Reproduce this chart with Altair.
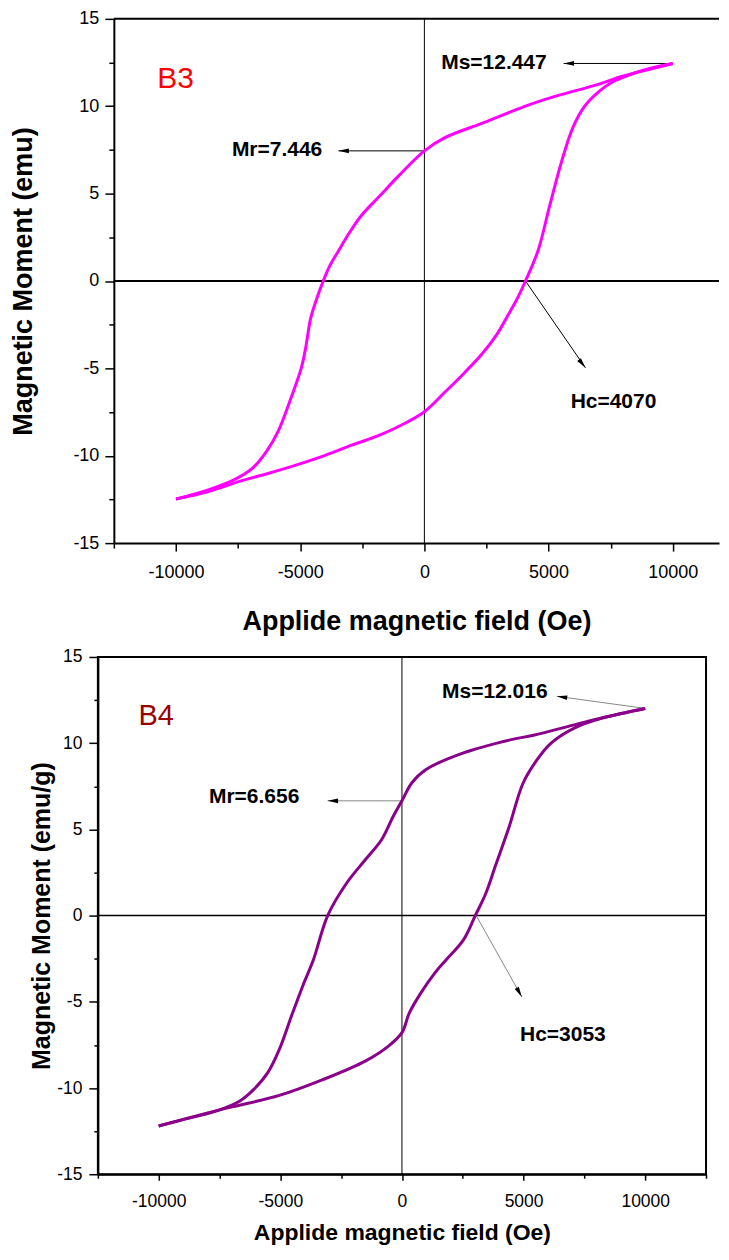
import altair as alt
import pandas as pd

# ---------------- data: B3 (top panel) ----------------
b3_desc_H = [10000, 9068, 7937, 7000, 5323, 4016, 2335, 827, 0, -1048, -1800, -2550, -3000,
             -3488, -3800, -4070, -4330, -4580, -4780, -4956, -5370, -5892, -6360, -6918,
             -7665, -8694, -10000]
b3_desc_M = [12.447, 12.12, 11.70, 11.25, 10.59, 9.98, 9.03, 8.2, 7.446, 6.0, 4.86, 3.72, 2.8,
             1.65, 0.89, 0.0, -1.0, -2.15, -3.84, -4.99, -6.70, -8.62, -9.76, -10.71,
             -11.38, -11.95, -12.48]
b3_asc_H = [-10000, -8694, -7384, -6266, -5141, -4019, -2898, -1777, -860, 0, 840, 1588, 2335,
            2898, 3364, 3738, 4070, 4578, 5047, 5514, 5981, 6447, 7010, 7572, 8320, 9068, 10000]
b3_asc_M = [-12.48, -12.05, -11.44, -11.0, -10.52, -9.99, -9.38, -8.81, -8.2, -7.48, -6.34,
            -5.29, -4.15, -3.1, -1.96, -1.01, 0.0, 1.75, 4.32, 6.79, 8.79, 9.99, 10.82, 11.39,
            11.83, 12.16, 12.447]

b3_text = ["Ms=12.447", "Mr=7.446", "Hc=4070"]
b3_text_H = [2800, -5930, 7613]
b3_text_M = [12.5, 7.5, -6.9]
b3_arrow_H = [10000, 0, 4070]
b3_arrow_M = [12.447, 7.446, 0.0]
b3_tip_H = [5603, -3460, 6485]
b3_tip_M = [12.447, 7.446, -4.97]
b3_tip_angle = [270, 270, 142]
b3_label = "B3"
b3_label_H = [-10012]
b3_label_M = [11.57]

# ---------------- data: B4 (bottom panel) ----------------
b4_desc_H = [10000, 8279, 7084, 5406, 4450, 2501, 975, 402, 0, -361, -838, -1507, -2271,
             -3053, -3640, -4030, -4545, -5040, -5516, -6090, -6662, -7618, -8953, -10000]
b4_desc_M = [12.016, 11.49, 11.06, 10.46, 10.19, 9.42, 8.46, 7.69, 6.656, 5.75, 4.40, 3.24,
             1.89, 0.0, -2.56, -3.91, -5.84, -7.76, -9.11, -10.08, -10.75, -11.33, -11.82,
             -12.2]
b4_asc_H = [-10000, -7425, -5040, -3228, -1507, -554, 0, 304, 780, 1355, 1820, 2536, 3014,
            3454, 3836, 4411, 4982, 5556, 6131, 7084, 8226, 10000]
b4_asc_M = [-12.2, -11.24, -10.43, -9.5, -8.44, -7.57, -6.79, -5.64, -4.48, -3.32, -2.56,
            -1.39, 0.0, 1.31, 2.86, 5.17, 7.69, 9.04, 10.0, 10.87, 11.45, 12.016]

b4_text = ["Ms=12.016", "Mr=6.656", "Hc=3053"]
b4_text_H = [3818, -6077, 6616]
b4_text_M = [12.95, 6.85, -6.94]
b4_arrow_H = [10000, 0, 3053]
b4_arrow_M = [12.016, 6.656, 0.0]
b4_tip_H = [6365, -3058, 4928]
b4_tip_M = [12.72, 6.656, -4.72]
b4_tip_angle = [278, 270, 151]
b4_label = "B4"
b4_label_H = [-10100]
b4_label_M = [11.6]

x_ticks = [-12500, -10000, -7500, -5000, -2500, 0, 2500, 5000, 7500, 10000, 12500]
y_ticks = [-15, -12.5, -10, -7.5, -5, -2.5, 0, 2.5, 5, 7.5, 10, 12.5, 15]
x_title = "Applide magnetic field (Oe)"

FONT = "Liberation Sans"
ARROW = "M0,0L0.45,2L-0.45,2Z"


def panel(desc_H, desc_M, asc_H, asc_M, texts, tH, tM, aH, aM, pH, pM, pA,
          label, lH, lM, st):
    H = desc_H + asc_H
    M = desc_M + asc_M
    branch = ["down"] * len(desc_H) + ["up"] * len(asc_H)
    curve = pd.DataFrame({"H": H, "M": M, "b": branch, "i": list(range(len(H)))})
    ann = pd.DataFrame({"H": tH, "M": tM, "t": texts})
    arrows = pd.DataFrame({"H": aH, "M": aM, "H2": pH, "M2": pM})
    tips = pd.DataFrame({"H": pH, "M": pM, "a": pA})
    lab = pd.DataFrame({"H": lH, "M": lM, "t": [label]})
    xmin_, xmax_ = -12500, st["xmax"]
    zero = pd.DataFrame({"H": [0], "M": [0], "Ha": [xmin_], "Hb": [xmax_]})
    topline = pd.DataFrame({"M": [15], "Ha": [xmin_], "Hb": [xmax_]})

    shift = st["shift"]
    xs = alt.Scale(domain=[xmin_, xmax_], nice=False, zero=False,
                   range=[shift, st["w"]])
    ys = alt.Scale(domain=[-15, 15], nice=False, zero=False)
    xvals = [v for v in x_ticks if v <= xmax_]
    xaxis = alt.Axis(
        values=xvals, title=x_title, grid=False,
        labelExpr="datum.value % 5000 === 0 && abs(datum.value) < 12500 ? '' + datum.value : ''",
        tickSize={"condition": {"test": "datum.value % 5000 === 0", "value": st["xmaj"]},
                  "value": st["xmin"]},
        tickColor="black", tickWidth=1.5, domainColor="black", domainWidth=2,
        labelFont=FONT, labelFontSize=st["lab"], labelColor="black",
        labelPadding=st["xlp"], labelFlush=False, labelOverlap=False,
        titleFont=FONT, titleFontSize=st["xts"], titleFontWeight="bold",
        titleColor="black", titlePadding=st["xtp"])
    yaxis = alt.Axis(
        values=y_ticks, title=st["ytitle"], grid=False, offset=-shift,
        labelExpr="datum.value % 5 === 0 ? '' + datum.value : ''",
        tickSize={"condition": {"test": "datum.value % 5 === 0", "value": st["ymaj"]},
                  "value": st["ymin"]},
        tickColor="black", tickWidth=1.5, domainColor="black", domainWidth=2,
        labelFont=FONT, labelFontSize=st["lab"], labelColor="black",
        labelPadding=st["ylp"], labelFlush=False, labelOverlap=False,
        titleFont=FONT, titleFontSize=st["yts"], titleFontWeight="bold",
        titleColor="black", titlePadding=st["ytp"])

    X = alt.X("H:Q", scale=xs, axis=xaxis)
    Y = alt.Y("M:Q", scale=ys, axis=yaxis)
    Xa = alt.X("Ha:Q", scale=xs, axis=xaxis)

    layers = []
    if st["frame_rule"]:
        layers.append(alt.Chart(topline).mark_rule(color="black", strokeWidth=2).encode(
            x=Xa, x2=alt.X2("Hb"), y=Y))
    layers += [
        alt.Chart(zero).mark_rule(color="black", strokeWidth=st["zw"]).encode(
            x=Xa, x2=alt.X2("Hb"), y=Y),
        alt.Chart(zero).mark_rule(color="black", strokeWidth=1).encode(x=X),
        alt.Chart(arrows).mark_rule(color=st["acolor"], strokeWidth=1).encode(
            x=X, y=Y, x2=alt.X2("H2"), y2=alt.Y2("M2")),
        alt.Chart(curve).mark_line(color=st["color"], strokeWidth=3,
                                   interpolate="catmull-rom").encode(
            x=X, y=Y, detail="b:N", order=alt.Order("i:Q")),
        alt.Chart(tips).mark_point(shape=ARROW, size=110, filled=True, opacity=1,
                                   color="black", strokeWidth=0).encode(
            x=X, y=Y, angle=alt.Angle("a:Q", scale=None)),
        alt.Chart(ann).mark_text(font=FONT, fontSize=st["afs"], fontWeight="bold",
                                 color="black", align="center", baseline="middle").encode(
            x=X, y=Y, text="t:N"),
        alt.Chart(lab).mark_text(font=FONT, fontSize=st["bfs"], color=st["lcolor"],
                                 align="center", baseline="middle").encode(
            x=X, y=Y, text="t:N"),
    ]
    return alt.layer(*layers).properties(
        width=st["w"], height=st["h"],
        view=alt.ViewBackground(stroke=st["vstroke"], strokeWidth=2))


top = panel(b3_desc_H, b3_desc_M, b3_asc_H, b3_asc_M, b3_text, b3_text_H, b3_text_M,
            b3_arrow_H, b3_arrow_M, b3_tip_H, b3_tip_M, b3_tip_angle,
            b3_label, b3_label_H, b3_label_M,
            dict(w=622, shift=16, h=525, xmax=11860, color="#ff00ff", acolor="black",
                 lcolor="#ff0000", vstroke="transparent", frame_rule=True,
                 ytitle="Magnetic Moment (emu)", yts=27, xts=27, lab=18,
                 xmaj=8, xmin=5, ymaj=9, ymin=5, xlp=12, ylp=6, xtp=28, ytp=35,
                 zw=2, afs=21, bfs=30))

bottom = panel(b4_desc_H, b4_desc_M, b4_asc_H, b4_asc_M, b4_text, b4_text_H, b4_text_M,
               b4_arrow_H, b4_arrow_M, b4_tip_H, b4_tip_M, b4_tip_angle,
               b4_label, b4_label_H, b4_label_M,
               dict(w=609, shift=0, h=518, xmax=12500, color="#8b008b", acolor="#888888",
                    lcolor="#990000", vstroke="black", frame_rule=False,
                    ytitle="Magnetic Moment (emu/g)", yts=25, xts=23, lab=17.5,
                    xmaj=6, xmin=4, ymaj=9, ymin=4, xlp=12, ylp=7, xtp=12, ytp=2,
                    zw=1.5, afs=21, bfs=29))

chart = alt.vconcat(top, bottom, spacing=11).properties(
    padding={"left": 0, "top": 0, "right": 0, "bottom": 0},
    background="white")

chart.save("out.html", embed_options={"renderer": "svg", "actions": False})
